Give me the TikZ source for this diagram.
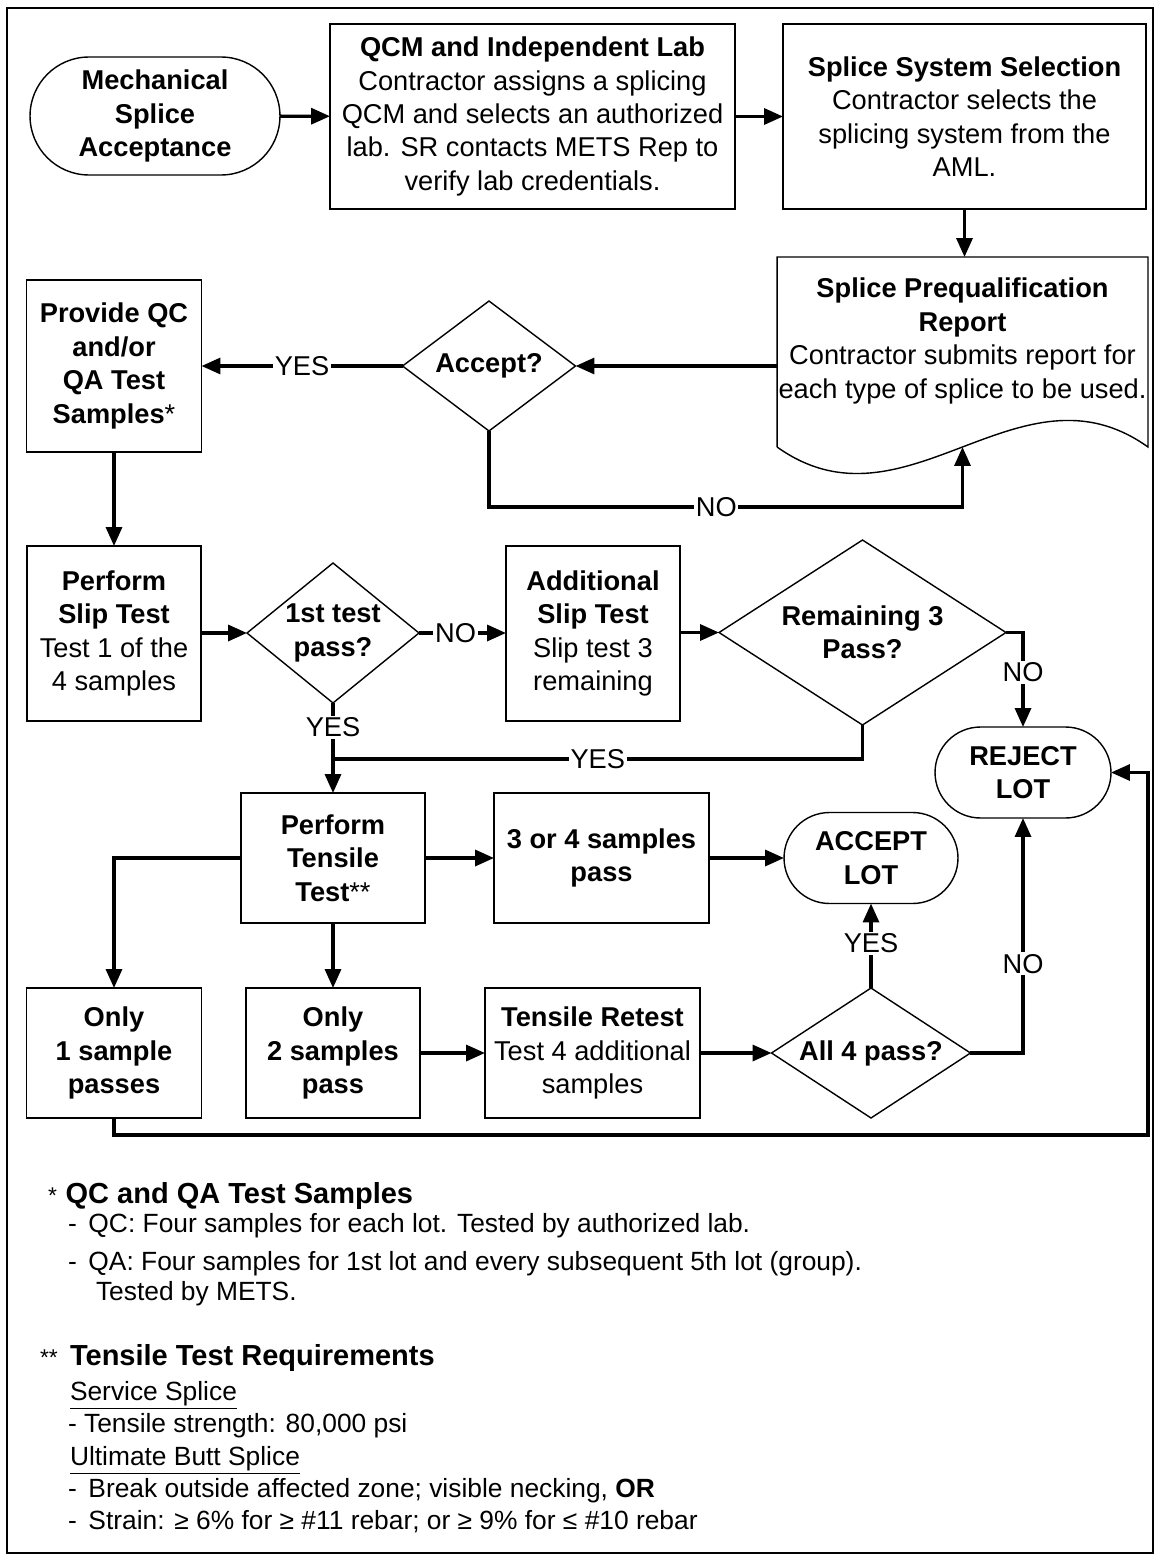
\documentclass[tikz,border=0pt]{standalone}
\usepackage{fontspec}
\setmainfont{Liberation Sans}
\usetikzlibrary{shapes.geometric,shapes.misc,arrows.meta}

\tikzset{
  every node/.style={outer sep=0pt},
  flow/.style={font=\fontsize{15.5}{19}\selectfont, align=center, inner sep=0pt},
  box/.style={flow, draw, line width=0.8pt, rectangle},
  term/.style={flow, draw, line width=0.8pt, rounded rectangle, font=\fontsize{15.5}{19}\selectfont\bfseries},
  ask/.style={flow, draw, line width=0.8pt, diamond, font=\fontsize{15.5}{19}\selectfont\bfseries},
  conn/.style={line width=1.9pt, -{Triangle[length=0.38cm,width=0.32cm]}},
  yn/.style={fill=white, inner sep=1pt, font=\fontsize{15.5}{18}\selectfont},
  note/.style={anchor=base west, inner sep=0pt, font=\fontsize{15}{18}\selectfont},
  notehead/.style={anchor=base west, inner sep=0pt, font=\fontsize{16.5}{19}\selectfont},
}

\begin{document}
\begin{tikzpicture}[x=0.02cm,y=-0.02cm]
  \useasboundingbox (0,0) rectangle (1159,1558);
  \draw[line width=1.4pt] (7,8) rectangle (1153,1553);

  % top row
  \node[term, minimum width=5cm, minimum height=2.36cm] (msa) at (155,116)
    {Mechanical\\Splice\\Acceptance};
  \node[box, minimum width=8.1cm, minimum height=3.7cm] (qcm) at (532.5,116.5)
    {\textbf{QCM and Independent Lab}\\Contractor assigns a splicing\\QCM and selects an authorized\\lab. SR contacts METS Rep to\\verify lab credentials.};
  \node[box, minimum width=7.26cm, minimum height=3.7cm] (sss) at (964.5,116.5)
    {\textbf{Splice System Selection}\\Contractor selects the\\splicing system from the\\AML.};

  % report (document shape)
  \node[minimum width=7.42cm, minimum height=3.8cm] (spr) at (962.5,352) {};
  \node[flow] (sprtext) at (962.5,341)
    {\textbf{Splice Prequalification}\\\textbf{Report}\\Contractor submits report for\\each type of splice to be used.};
  \draw[line width=0.8pt] (spr.south west) -- (spr.north west) -- (spr.north east) -- (spr.south east)
    .. controls +(-129,-92) and +(129,92) .. (spr.south west);

  \node[ask, minimum width=3.46cm, minimum height=2.6cm, shape aspect=1.33] (acc) at (489,366) {Accept?};
  \node[box, font=\fontsize{15.5}{19}\selectfont\bfseries, minimum width=3.5cm, minimum height=3.44cm] (prov) at (114,366)
    {Provide QC\\and/or\\QA Test\\Samples{\mdseries*}};

  % slip test row
  \node[box, minimum width=3.48cm, minimum height=3.5cm] (slip) at (114,633.5)
    {\textbf{Perform}\\\textbf{Slip Test}\\Test 1 of the\\4 samples};
  \node[ask, minimum width=3.44cm, minimum height=2.8cm, shape aspect=1.23] (first) at (333,633)
    {1st test\\pass?};
  \node[box, minimum width=3.48cm, minimum height=3.5cm] (addl) at (593,633.5)
    {\textbf{Additional}\\\textbf{Slip Test}\\Slip test 3\\remaining};
  \node[ask, minimum width=5.74cm, minimum height=3.7cm, shape aspect=1.55] (rem) at (862.5,632.5)
    {Remaining 3\\Pass?};
  \node[term, minimum width=3.52cm, minimum height=1.82cm] (reject) at (1023,772.5) {REJECT\\LOT};

  % tensile test rows
  \node[box, font=\fontsize{15.5}{19}\selectfont\bfseries, minimum width=3.68cm, minimum height=2.6cm] (tens) at (333,858)
    {Perform\\Tensile\\Test{\mdseries**}};
  \node[box, font=\fontsize{15.5}{19}\selectfont\bfseries, minimum width=4.3cm, minimum height=2.6cm] (three) at (601.5,858)
    {3 or 4 samples\\pass};
  \node[term, minimum width=3.48cm, minimum height=1.82cm] (acclot) at (871,858) {ACCEPT\\LOT};

  \node[box, font=\fontsize{15.5}{19}\selectfont\bfseries, minimum width=3.5cm, minimum height=2.6cm] (only1) at (114,1053)
    {Only\\1 sample\\passes};
  \node[box, font=\fontsize{15.5}{19}\selectfont\bfseries, minimum width=3.48cm, minimum height=2.6cm] (only2) at (333,1053)
    {Only\\2 samples\\pass};
  \node[box, minimum width=4.3cm, minimum height=2.6cm] (retest) at (592.5,1053)
    {\textbf{Tensile Retest}\\Test 4 additional\\samples};
  \node[ask, minimum width=3.98cm, minimum height=2.6cm, shape aspect=1.53] (all4) at (871,1053) {All 4 pass?};

  \coordinate (nocorner) at (962.5,507);
  \coordinate (yesjoin) at (333,759);
  \coordinate (loopc) at (1148,1135);

  % connectors
  \draw[conn] (msa) -- (qcm);
  \draw[conn] (qcm) -- (sss);
  \draw[conn] (sss.south |- sss.south) -- (sss.south |- spr.north);
  \draw[conn] (acc.east -| spr.west) -- (acc.east);
  \draw[conn] (acc.west) -- node[yn] {YES} (prov.east);
  \draw[conn] (acc.south) |- node[yn, pos=0.74] {NO} (nocorner) -- (spr.south);
  \draw[conn] (prov.south) -- (slip.north);
  \draw[conn] (slip.east |- first.west) -- (first.west);
  \draw[conn] (first.east) -- node[yn, pos=0.42] {NO} (addl.west |- first.east);
  \draw[conn] (addl.east |- rem.west) -- (rem.west);
  \draw[conn] (rem.east) -| node[yn, pos=0.71] {NO} (reject.north);
  \draw[conn] (first.south) -- node[yn, pos=0.27] {YES} (tens.north);
  \draw[line width=1.9pt] (rem.south) |- node[yn, pos=0.75] {YES} (yesjoin);
  \draw[conn] (tens.east) -- (three.west);
  \draw[conn] (three.east) -- (acclot.west);
  \draw[conn] (tens.west) -| (only1.north);
  \draw[conn] (tens.south) -- (only2.north);
  \draw[conn] (only2.east) -- (retest.west);
  \draw[conn] (retest.east) -- (all4.west);
  \draw[conn] (all4.north) -- node[yn, pos=0.53] {YES} (acclot.south);
  \draw[conn] (all4.east) -| node[yn, pos=0.69] {NO} (reject.south);
  \draw[conn] (only1.south) |- (loopc) |- (reject.east);

  % notes
  \node[notehead] (qchead) at (48,1203) {{\fontsize{13}{15}\selectfont *}\hspace{5pt}\textbf{QC and QA Test Samples}};
  \node[note] (qcline) at (68,1232) {-\ \,QC: Four samples for each lot. Tested by authorized lab.};
  \node[note] (qaline) at (68,1270) {-\ \,QA: Four samples for 1st lot and every subsequent 5th lot (group).};
  \node[note] (qaline2) at (96,1300) {Tested by METS.};
  \node[notehead] (tthead) at (40,1365) {{\fontsize{13}{15}\selectfont **}\hspace{7pt}\textbf{Tensile Test Requirements}};
  \node[note] (svc) at (70,1400) {\underline{Service Splice}};
  \node[note] (svc1) at (68,1432) {- Tensile strength: 80,000 psi};
  \node[note] (ubs) at (70,1465) {\underline{Ultimate Butt Splice}};
  \node[note] (ubs1) at (68,1497) {-\ \,Break outside affected zone; visible necking, \textbf{OR}};
  \node[note] (ubs2) at (68,1529) {-\ \,Strain: ≥ 6\% for ≥ \#11 rebar; or ≥ 9\% for ≤ \#10 rebar};
\end{tikzpicture}
\end{document}
